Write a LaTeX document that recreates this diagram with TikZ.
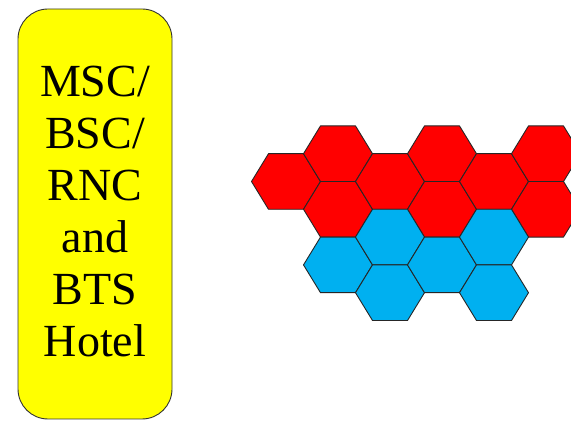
\documentclass[tikz,border=0pt]{standalone}
\usepackage{fontspec}
\setmainfont{Liberation Serif}
\definecolor{hexred}{RGB}{255,0,0}
\definecolor{hexblue}{RGB}{0,176,240}
\definecolor{boxyellow}{RGB}{255,255,0}
\begin{document}
\begin{tikzpicture}[x=1pt,y=-1pt,
  cell/.style={draw=black!85,line width=0.9pt,line join=round},
  redcell/.style={cell,fill=hexred},
  bluecell/.style={cell,fill=hexblue}]
\clip (0,0) rectangle (571,422);
\fill[white] (0,0) rectangle (571,422);
\node[draw=black!80, line width=0.9pt, fill=boxyellow, rounded corners=30pt,
  minimum width=154pt, minimum height=410pt, inner sep=0pt] (hotel) at (95,214) {};
\node[font=\fontsize{46}{52}\selectfont, align=center, inner sep=0pt] (label) at (95,211.8)
  {MSC/\\BSC/\\RNC\\and\\BTS\\Hotel};
\foreach \cx/\cy in {286/181.5,338/153.7,338/209.3,390/181.5,442/153.7,442/209.3,494/181.5,546/153.7,546/209.3}
  \draw[redcell] (\cx-34.5,\cy) -- (\cx-17.5,\cy-27.8) -- (\cx+17.5,\cy-27.8) -- (\cx+34.5,\cy)
    -- (\cx+17.5,\cy+27.8) -- (\cx-17.5,\cy+27.8) -- cycle;
\foreach \cx/\cy in {338/264.9,390/237.1,390/292.7,442/264.9,494/237.1,494/292.7}
  \draw[bluecell] (\cx-34.5,\cy) -- (\cx-17.5,\cy-27.8) -- (\cx+17.5,\cy-27.8) -- (\cx+34.5,\cy)
    -- (\cx+17.5,\cy+27.8) -- (\cx-17.5,\cy+27.8) -- cycle;
\end{tikzpicture}
\end{document}
